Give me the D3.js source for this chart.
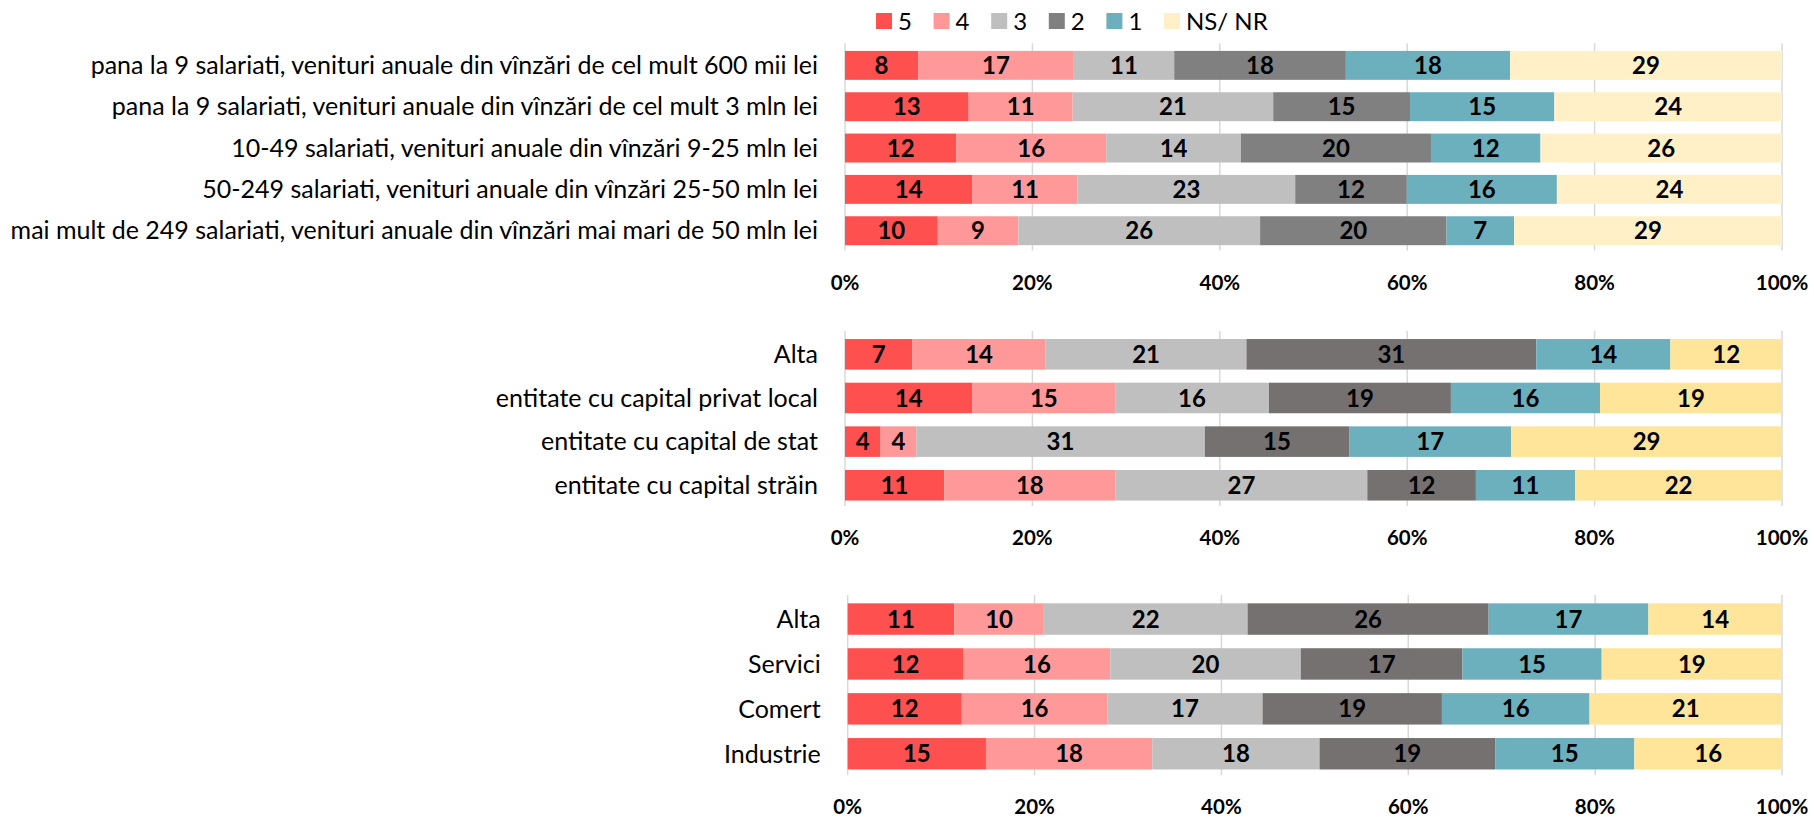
<!DOCTYPE html>
<html>
<head>
<meta charset="utf-8">
<script src="https://cdn.jsdelivr.net/npm/d3@7"></script>
<style>
  body { margin: 0; background: #fff; }
  svg { display: block; }
  .cat { font-family: Lato, "Open Sans", sans-serif; font-size: 25px; fill: #000; }
  .val { font-family: Lato, "Open Sans", sans-serif; font-size: 24px; font-weight: bold; fill: #000; }
  .tick { font-family: Lato, "Open Sans", sans-serif; font-size: 20.5px; font-weight: bold; fill: #000; }
  .leg { font-family: Lato, "Open Sans", sans-serif; font-size: 24px; fill: #000; }
</style>
</head>
<body>
<div id="chart"></div>
<script>
// series keys (legend order, left to right in each bar)
var keys = ["5", "4", "3", "2", "1", "NS/ NR"];

// panel 1 - company size
var sizeCats = [
  "pana la 9 salariati, venituri anuale din vînzări de cel mult 600 mii lei",
  "pana la 9 salariati, venituri anuale din vînzări de cel mult 3 mln lei",
  "10-49 salariati, venituri anuale din vînzări 9-25 mln lei",
  "50-249 salariati, venituri anuale din vînzări 25-50 mln lei",
  "mai mult de 249 salariati, venituri anuale din vînzări mai mari de 50 mln lei"
];
var sizeVals = [
  [7.8, 16.6, 10.7, 18.3, 17.5, 29.0],
  [13.2, 11.1, 21.4, 14.6, 15.4, 24.3],
  [11.9, 16.0, 14.4, 20.3, 11.7, 25.8],
  [13.6, 11.2, 23.2, 11.9, 16.0, 24.0],
  [9.9, 8.6, 25.8, 19.9, 7.2, 28.6]
];

// panel 2 - ownership
var ownCats = ["Alta", "entitate cu capital privat local", "entitate cu capital de stat", "entitate cu capital străin"];
var ownVals = [
  [7.2, 14.2, 21.4, 30.9, 14.3, 11.9],
  [13.6, 15.2, 16.4, 19.4, 15.9, 19.4],
  [3.8, 3.8, 30.8, 15.4, 17.3, 28.9],
  [10.6, 18.3, 26.9, 11.6, 10.6, 22.1]
];

// panel 3 - sector
var secCats = ["Alta", "Servici", "Comert", "Industrie"];
var secVals = [
  [11.4, 9.6, 21.8, 25.8, 17.1, 14.3],
  [12.4, 15.7, 20.4, 17.3, 14.9, 19.3],
  [12.2, 15.6, 16.6, 19.2, 15.8, 20.6],
  [14.8, 17.8, 17.9, 18.8, 14.9, 15.8]
];

var tickVals = [0, 0.2, 0.4, 0.6, 0.8, 1];

var colorsA = ["#FF5050", "#FF9999", "#BFBFBF", "#808080", "#6CB0BE", "#FFF0C8"];
var colorsB = ["#FF5050", "#FF9999", "#BFBFBF", "#767171", "#6CB0BE", "#FFE599"];

var W = 1814, H = 817;
var svg = d3.select("#chart").append("svg")
    .attr("width", W)
    .attr("height", H);

var panels = [
  { cats: sizeCats, vals: sizeVals, colors: colorsA, x0: 845, x1: 1782, y0: 44.7, y1: 251.4 },
  { cats: ownCats, vals: ownVals, colors: colorsB, x0: 845, x1: 1782, y0: 332.5, y1: 507.1 },
  { cats: secCats, vals: secVals, colors: colorsB, x0: 847.7, x1: 1782, y0: 596.6, y1: 776.2 }
];

panels.forEach(function(p) {
  var rows = p.cats.map(function(c, i) {
    var r = { cat: c };
    keys.forEach(function(k, j) { r[k] = p.vals[i][j]; });
    return r;
  });
  var series = d3.stack().keys(keys).offset(d3.stackOffsetExpand)(rows);

  var x = d3.scaleLinear().domain([0, 1]).range([p.x0, p.x1]);
  var y = d3.scaleBand().domain(p.cats).range([p.y0, p.y1])
      .paddingInner(0.30).paddingOuter(0.15);
  var color = d3.scaleOrdinal().domain(keys).range(p.colors);

  var g = svg.append("g");

  // gridlines
  g.selectAll(".grid").data(tickVals).enter().append("line")
      .attr("x1", function(d){ return x(d); })
      .attr("x2", function(d){ return x(d); })
      .attr("y1", p.y0 - 1.5)
      .attr("y2", p.y1 - 1)
      .attr("stroke", "#D9D9D9")
      .attr("stroke-width", 1.5);

  // bars
  var layer = g.selectAll(".layer").data(series).enter().append("g")
      .attr("fill", function(d){ return color(d.key); });
  layer.selectAll("rect").data(function(d){ return d; }).enter().append("rect")
      .attr("x", function(d){ return x(d[0]); })
      .attr("width", function(d){ return x(d[1]) - x(d[0]); })
      .attr("y", function(d){ return y(d.data.cat); })
      .attr("height", y.bandwidth());

  // value labels
  layer.selectAll("text").data(function(d){ var k = d.key; return d.map(function(s){ return { s: s, key: k }; }); })
    .enter().append("text")
      .attr("class", "val")
      .attr("x", function(d){ return (x(d.s[0]) + x(d.s[1])) / 2; })
      .attr("y", function(d){ return y(d.s.data.cat) + y.bandwidth() / 2; })
      .attr("dy", "0.36em")
      .attr("text-anchor", "middle")
      .text(function(d){ return Math.round(d.s.data[d.key]); });

  // category labels
  g.selectAll(".cat").data(p.cats).enter().append("text")
      .attr("class", "cat")
      .attr("x", p.x0 - 27)
      .attr("y", function(d){ return y(d) + y.bandwidth() / 2; })
      .attr("dy", "0.35em")
      .attr("text-anchor", "end")
      .text(function(d){ return d; });

  // x axis tick labels
  g.selectAll(".tick").data(tickVals).enter().append("text")
      .attr("class", "tick")
      .attr("x", function(d){ return x(d); })
      .attr("y", p.y1 + 31)
      .attr("dy", "0.35em")
      .attr("text-anchor", "middle")
      .text(d3.format(".0%"));
});

// legend
var legColors = ["#FF5050", "#FF9999", "#BFBFBF", "#808080", "#6CB0BE", "#FFF0C8"];
var leg = svg.append("g").selectAll("g").data(keys).enter().append("g")
    .attr("transform", function(d, i){ return "translate(" + (876 + i * 57.6) + ",13)"; });
leg.append("rect")
    .attr("width", 16).attr("height", 16)
    .attr("fill", function(d, i){ return legColors[i]; });
leg.append("text")
    .attr("class", "leg")
    .attr("x", 22).attr("y", 8).attr("dy", "0.36em")
    .text(function(d){ return d; });
</script>
</body>
</html>
